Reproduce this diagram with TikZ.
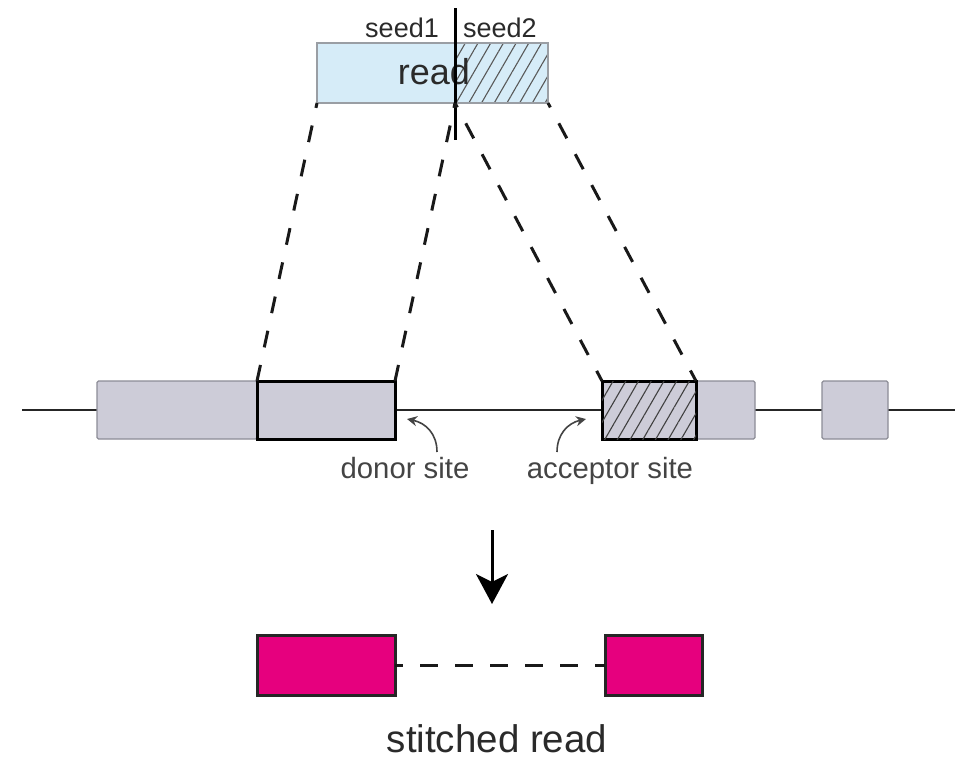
\documentclass[tikz,border=0pt]{standalone}
\usepackage{fontspec}
\setmainfont{Liberation Sans}
\usetikzlibrary{arrows.meta,patterns.meta}
\definecolor{readblue}{HTML}{D6ECF8}
\definecolor{exongray}{HTML}{CDCCD8}
\definecolor{exonedge}{HTML}{8C8C96}
\definecolor{readedge}{HTML}{9A9EA4}
\definecolor{pinkread}{HTML}{E6007E}
\definecolor{txt}{HTML}{2A2A2A}
\definecolor{lbl}{HTML}{444444}
\begin{document}
\begin{tikzpicture}[x=1pt,y=-1pt,
  box/.style={rectangle,inner sep=0pt,outer sep=0pt,anchor=north west},
  hatch/.style={pattern={Lines[angle=60,distance=11pt,line width=1.1pt]},pattern color=#1},
  exonbox/.style={box,fill=exongray,draw=exonedge,line width=1.2pt,rounded corners=1.5pt,minimum height=58pt},
  boldbox/.style={box,fill=exongray,draw=black,line width=3pt,minimum height=58pt},
  pinkbox/.style={box,fill=pinkread,draw=black!85,line width=3pt,minimum height=60pt},
  dashline/.style={draw=black!90,line width=3pt,dash pattern=on 17pt off 18pt,dash phase=12pt},
  siteArrow/.style={draw=lbl,line width=1.6pt,-{Stealth[width=10pt,length=10pt]}},
  lbltext/.style={text=lbl,font=\fontsize{29.3}{34}\selectfont,inner sep=0pt},
]
\useasboundingbox (0,0) rectangle (966,761);

% read
\node[box,fill=readblue,minimum width=138pt,minimum height=60pt] (readL) at (317,43) {};
\node[box,fill=readblue,minimum width=93pt,minimum height=60pt,postaction={hatch=black!65}] (readR) at (455,43) {};
\draw[readedge,line width=1.2pt] (readL.north west) rectangle (readR.south east);
\node[anchor=base,text=txt,inner sep=0pt,font=\fontsize{36}{42}\selectfont] (readtxt) at (434,84) {read};
\node[anchor=base east,text=txt,inner sep=0pt,font=\fontsize{27}{32}\selectfont] (seed1) at (439,37) {seed1};
\node[anchor=base west,text=txt,inner sep=0pt,font=\fontsize{27}{32}\selectfont] (seed2) at (463,37) {seed2};
\coordinate (splitTop) at (455,8);
\coordinate (splitBot) at (455,140);
\draw[black,line width=3pt] (splitTop) -- (splitBot);

% genome
\coordinate (gL) at (22,410);
\coordinate (gR) at (955,410);
\draw[black!85,line width=2.5pt] (gL) -- (gR);
\node[exonbox,minimum width=160pt] (ex1a) at (97,381) {};
\node[boldbox,minimum width=138pt] (ex1b) at (257,381) {};
\node[exonbox,minimum width=59pt] (ex2b) at (696,381) {};
\node[boldbox,minimum width=94pt,postaction={hatch=black!75}] (exacc) at (602,381) {};
\node[exonbox,minimum width=66pt] (ex3) at (822,381) {};

% mapping
\draw[dashline] (readL.south west) -- (ex1b.north west);
\draw[dashline] (readL.south east) -- (ex1b.north east);
\draw[dashline] (readR.south west) -- (exacc.north west);
\draw[dashline] (readR.south east) -- (exacc.north east);

% site labels
\node[lbltext,anchor=base] (donor) at (405,478) {donor site};
\node[lbltext,anchor=base] (acceptor) at (610,478) {acceptor site};
\coordinate (dS) at (437,452);
\coordinate (dE) at (407,419);
\coordinate (aS) at (557,452);
\coordinate (aE) at (586,419);
\draw[siteArrow] (dS) .. controls (437,434) and (426,423) .. (dE);
\draw[siteArrow] (aS) .. controls (557,434) and (568,423) .. (aE);

% down arrow
\coordinate (dnTop) at (492,530);
\coordinate (dnBot) at (492,604);
\draw[black,line width=3pt,-{Stealth[width=32pt,length=30pt,inset=8pt]}] (dnTop) -- (dnBot);

% stitched read
\node[pinkbox,minimum width=138pt] (pk1) at (257,635) {};
\node[pinkbox,minimum width=97pt] (pk2) at (605,635) {};
\draw[draw=black!90,line width=3pt,dash pattern=on 18pt off 17pt,dash phase=10pt] (pk1.east) -- (pk2.west);
\node[anchor=base,text=txt,inner sep=0pt,font=\fontsize{38.5}{44}\selectfont] (stitched) at (497,752) {stitched read};
\end{tikzpicture}
\end{document}
